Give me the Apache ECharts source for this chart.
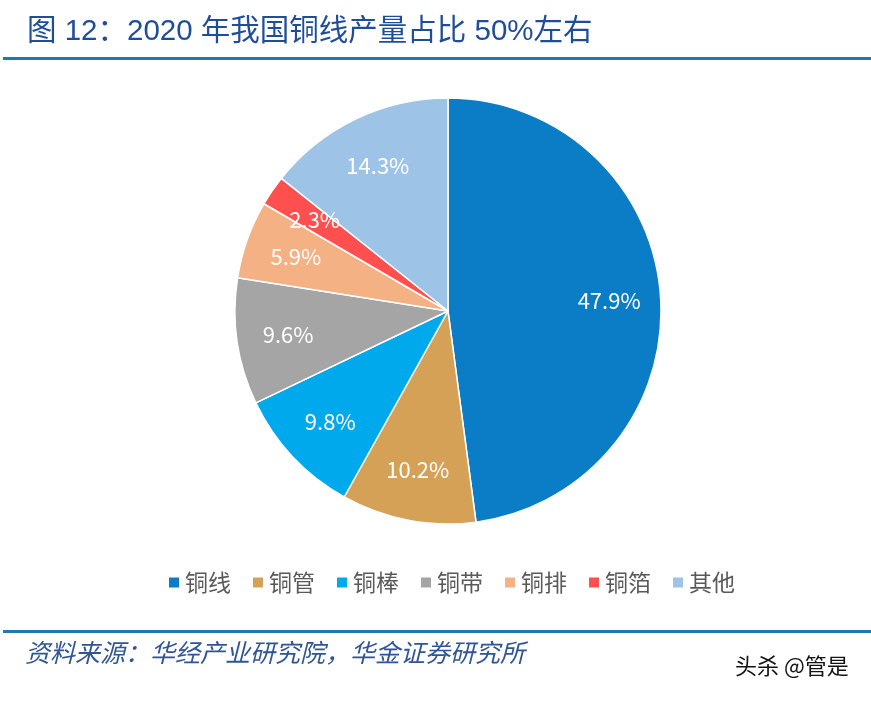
<!DOCTYPE html>
<html><head><meta charset="utf-8">
<script src="https://cdn.jsdelivr.net/npm/echarts@6/dist/echarts.min.js"></script>
<style>html,body{margin:0;padding:0;background:#fff}#c{width:871px;height:701px}</style>
</head><body><div id="c"></div>
<script>
const categories = ['铜线','铜管','铜棒','铜带','铜排','铜箔','其他'];
const values = [47.9, 10.2, 9.8, 9.6, 5.9, 2.3, 14.3];
const colors = ['#0B7DC6','#D4A157','#00A8EC','#A5A5A5','#F4B183','#FF4F4F','#9DC3E6'];
const titleText = '图 12：2020 年我国铜线产量占比 50%左右';
const sourceText = '资料来源：华经产业研究院，华金证券研究所';
const watermark = '头杀 @管是';

const chart = echarts.init(document.getElementById('c'));
const data = categories.map((n,i)=>({name:n, value:values[i], itemStyle:{color:colors[i]}}));
const font = '"Noto Sans CJK SC", "Noto Sans", sans-serif';
const titleFont = '"Liberation Sans", "Noto Sans CJK SC", sans-serif';
chart.setOption({
  animation:false,
  backgroundColor:'#fff',
  legend:{
    top:566, left:162, itemWidth:12, itemHeight:12, itemGap:20, icon:'rect',
    textStyle:{fontSize:23, color:'#595959', fontFamily:font},
    data:categories
  },
  series:[
    {type:'pie', center:[448,311], radius:[0,213], startAngle:90, clockwise:true,
     data:data, label:{show:false}, labelLine:{show:false}, silent:true,
     itemStyle:{borderColor:'#fff', borderWidth:1.5}},
    {type:'pie', center:[448,311], radius:[104,213], startAngle:90, clockwise:true,
     data:categories.map((n,i)=>({name:n, value:values[i]})), silent:true,
     itemStyle:{color:'rgba(0,0,0,0)'}, legendHoverLink:false,
     label:{show:true, position:'inside', formatter:p=>p.value.toFixed(1)+'%',
            color:'#fff', fontSize:22, fontFamily:font}, labelLine:{show:false}}
  ],
  graphic:[
    {type:'text', left:27, top:17, style:{text:titleText, fontSize:29.5, fill:'#1F4E99', fontFamily:titleFont}},
    {type:'rect', shape:{x:3,y:57,width:868,height:3}, style:{fill:'#1F78B0'}},
    {type:'rect', shape:{x:3,y:630,width:868,height:3}, style:{fill:'#1F78B0'}},
    {type:'text', left:25, top:640, style:{text:sourceText, fontSize:25, fill:'#2F5597', fontStyle:'italic', fontFamily:font}},
    {type:'text', left:735, top:655, style:{text:watermark, fontSize:22, fill:'#111', fontFamily:font}}
  ]
});
</script></body></html>
